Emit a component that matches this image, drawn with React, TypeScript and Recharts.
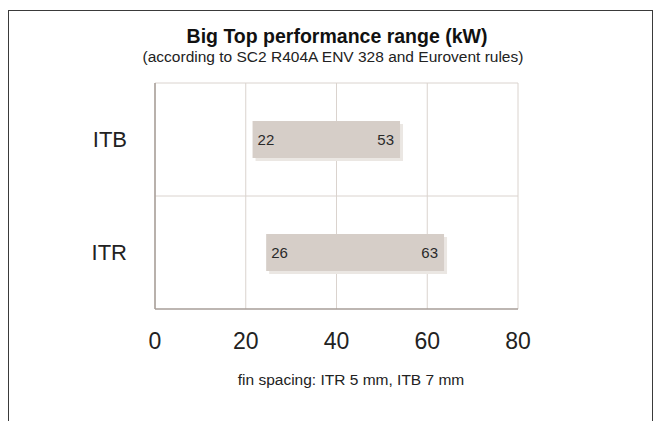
import { Bar, BarChart, CartesianGrid, XAxis, YAxis } from "recharts";

const models = ["ITB", "ITR"];
const rangeStart = [21.5, 24.5];
const rangeEnd = [54, 63.7];
const lowLabels = ["22", "26"];
const highLabels = ["53", "63"];
const xTicks = [0, 20, 40, 60, 80];

const FONT = '"Liberation Sans", Arial, Helvetica, sans-serif';
const BAR = "#d6cec8";
const SHADOW = "#ebe7e3";
const GRID = "#dad3ce";
const AXIS = "#a79e98";

const data = models.map((m, i) => ({ name: m, range: [rangeStart[i], rangeEnd[i]] }));

function RangeBar(props: any) {
  const { x, y, width, height, index } = props;
  const cy = y + height / 2;
  return (
    <g>
      <rect x={x + 3} y={y + 3} width={width} height={height} fill={SHADOW} />
      <rect x={x} y={y} width={width} height={height} fill={BAR} />
      <text x={x + 5} y={cy} dy="0.35em" fontSize={15} fill="#2a2a2a" fontFamily={FONT}>
        {lowLabels[index]}
      </text>
      <text
        x={x + width - 6}
        y={cy}
        dy="0.35em"
        textAnchor="end"
        fontSize={15}
        fill="#2a2a2a"
        fontFamily={FONT}
      >
        {highLabels[index]}
      </text>
    </g>
  );
}

export default function App() {
  return (
    <div style={{ position: "absolute", left: 0, top: 0, width: 657, height: 421, background: "#fff", overflow: "hidden", fontFamily: FONT }}>
      <div
        style={{
          position: "absolute",
          boxSizing: "border-box",
          left: 8,
          top: 10,
          width: 645,
          height: 430,
          borderTop: "1.5px solid #3a3a3a",
          borderLeft: "1.5px solid #3a3a3a",
          borderRight: "1.5px solid #3a3a3a",
        }}
      />
      <div style={{ position: "absolute", left: 14, width: 646, top: 25, textAlign: "center", fontSize: 19.5, fontWeight: 700, color: "#111" }}>
        Big Top performance range (kW)
      </div>
      <div style={{ position: "absolute", left: 10, width: 646, top: 48, textAlign: "center", fontSize: 15.5, color: "#222" }}>
        (according to SC2 R404A ENV 328 and Eurovent rules)
      </div>
      <div style={{ position: "absolute", left: 151, width: 400, top: 371, textAlign: "center", fontSize: 15.5, color: "#222" }}>
        fin spacing: ITR 5 mm, ITB 7 mm
      </div>
      <div style={{ position: "absolute", left: 0, top: 0 }}>
        <BarChart
          width={657}
          height={421}
          data={data}
          layout="vertical"
          margin={{ top: 83, right: 139, bottom: 82, left: 55 }}
        >
          <CartesianGrid
            stroke={GRID}
            strokeWidth={1}
            horizontalCoordinatesGenerator={({ offset }: any) => [offset.top, offset.top + offset.height / 2]}
          />
          <XAxis
            type="number"
            domain={[0, 80]}
            ticks={xTicks}
            interval={0}
            tickLine={false}
            tickSize={0}
            tickMargin={24}
            height={30}
            axisLine={{ stroke: AXIS, strokeWidth: 1.5 }}
            tick={{ fill: "#222", fontSize: 23, fontFamily: FONT }}
          />
          <YAxis
            type="category"
            dataKey="name"
            width={100}
            tickLine={false}
            tickSize={0}
            tickMargin={28}
            axisLine={{ stroke: AXIS, strokeWidth: 1.5 }}
            tick={{ fill: "#222", fontSize: 22, fontFamily: FONT }}
          />
          <Bar dataKey="range" barSize={37} shape={RangeBar} isAnimationActive={false} />
        </BarChart>
      </div>
    </div>
  );
}
